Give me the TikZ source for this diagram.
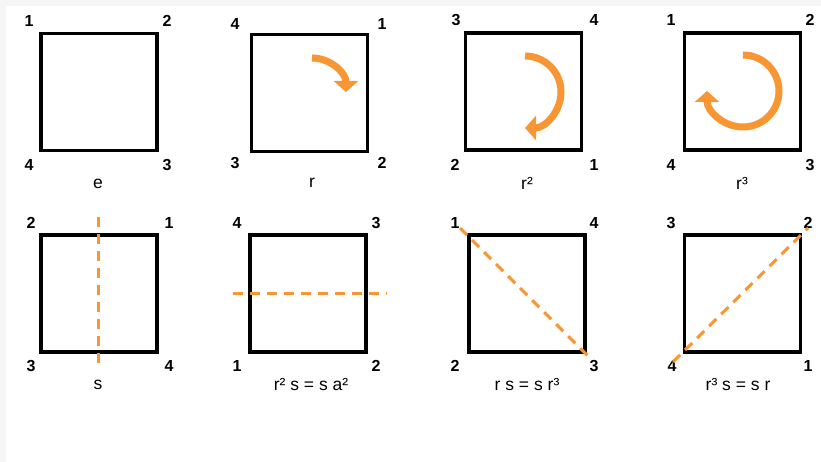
\documentclass[tikz,border=0pt]{standalone}
\usepackage{fontspec}
\setmainfont{Liberation Sans}
\usetikzlibrary{arrows.meta}
\definecolor{orng}{RGB}{247,150,50}
\definecolor{strip}{RGB}{245,245,245}
\tikzset{
  sq/.style={draw=black, line width=3.4pt, minimum width=116pt, minimum height=117pt, inner sep=0pt},
  num/.style={font=\fontsize{16}{16}\selectfont\bfseries, inner sep=0pt},
  captext/.style={font=\fontsize{17.5}{18}\selectfont, inner sep=0pt},
  mirror/.style={draw=orng, line width=3pt, dash pattern=on 10pt off 7pt},
  turn/.style={draw=orng, line width=7pt, -{Triangle[width=24pt,length=11pt]}}
}
\begin{document}
\begin{tikzpicture}[x=1pt,y=1pt]
\useasboundingbox (0,0) rectangle (821,462);
\fill[white] (0,0) rectangle (821,462);
\fill[strip] (0,456) rectangle (821,462);
\fill[strip] (0,0) rectangle (6,462);

% Row 1
\node[sq] (a1) at (99,370) {};
\node[sq] (a2) at (309.5,369) {};
\node[sq] (a3) at (523.5,370.5) {};
\node[sq] (a4) at (742.5,370.5) {};
% Row 2
\node[sq] (b1) at (99,168.5) {};
\node[sq] (b2) at (308,168.5) {};
\node[sq] (b3) at (527,168.5) {};
\node[sq] (b4) at (742.5,168.5) {};

% corner numbers row 1
\node[num] (a1tl) at (29,441) {1};
\node[num] (a1tr) at (167,441) {2};
\node[num] (a1bl) at (29,297) {4};
\node[num] (a1br) at (167,297) {3};
\node[num] (a2tl) at (235,438) {4};
\node[num] (a2tr) at (382,438) {1};
\node[num] (a2bl) at (235,299) {3};
\node[num] (a2br) at (382,299) {2};
\node[num] (a3tl) at (456,441.5) {3};
\node[num] (a3tr) at (594,441.5) {4};
\node[num] (a3bl) at (455,297) {2};
\node[num] (a3br) at (594,297) {1};
\node[num] (a4tl) at (671,442) {1};
\node[num] (a4tr) at (810,442) {2};
\node[num] (a4bl) at (671,297) {4};
\node[num] (a4br) at (810,297) {3};
% corner numbers row 2
\node[num] (b1tl) at (31,239) {2};
\node[num] (b1tr) at (169,239) {1};
\node[num] (b1bl) at (31,96) {3};
\node[num] (b1br) at (169,96) {4};
\node[num] (b2tl) at (237,239) {4};
\node[num] (b2tr) at (376,239) {3};
\node[num] (b2bl) at (237,96) {1};
\node[num] (b2br) at (376,96) {2};
\node[num] (b3tl) at (455,239) {1};
\node[num] (b3tr) at (594,239) {4};
\node[num] (b3bl) at (455,96) {2};
\node[num] (b3br) at (594,96) {3};
\node[num] (b4tl) at (671,239) {3};
\node[num] (b4tr) at (808,239) {2};
\node[num] (b4bl) at (672,96) {4};
\node[num] (b4br) at (808,96) {1};

% captions
\node[captext] (ca1) at (98,278) {e};
\node[captext] (ca2) at (312,279) {r};
\node[captext] (ca3) at (527,279) {r²};
\node[captext] (ca4) at (742,279) {r³};
\node[captext] (cb1) at (98,77) {s};
\node[captext] (cb2) at (311,77) {r² s = s a²};
\node[captext] (cb3) at (527,77) {r s = s r³};
\node[captext] (cb4) at (738,77) {r³ s = s r};

% reflection axes
\coordinate (v1) at (98,245);
\coordinate (v2) at (98,92);
\coordinate (h1) at (233,168);
\coordinate (h2) at (387,168);
\coordinate (d1) at (460,234);
\coordinate (d2) at (590,104);
\coordinate (e1) at (673,100);
\coordinate (e2) at (808,234);
\draw[mirror] (v1) -- (v2);
\draw[mirror] (h1) -- (h2);
\draw[mirror] (d1) -- (d2);
\draw[mirror] (e1) -- (e2);

% rotation arrows
\coordinate (r1s) at (312,404);
\coordinate (r2s) at (525,406);
\coordinate (r3s) at (743,407);
\draw[turn] (r1s) arc[start angle=90, end angle=0, radius=34pt];
\draw[turn] (r2s) arc[start angle=90, end angle=-90, radius=36pt];
\draw[turn] (r3s) arc[start angle=90, end angle=-180, radius=36pt];
\end{tikzpicture}
\end{document}
